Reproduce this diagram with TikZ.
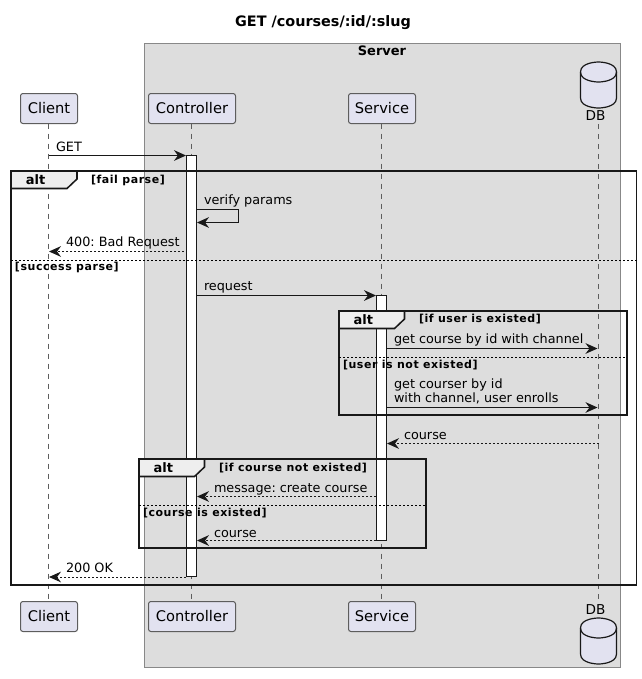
\documentclass[tikz,border=0pt]{standalone}
\usepackage{fontspec}
\setmainfont{DejaVu Sans}
\newfontfamily\guardfont[LetterSpace=5]{DejaVu Sans}
\frenchspacing
\usetikzlibrary{arrows.meta}
\definecolor{actor}{HTML}{E2E2F0}
\definecolor{boxgray}{HTML}{DDDDDD}
\definecolor{boxline}{HTML}{888888}
\definecolor{tabfill}{HTML}{EEEEEE}
\definecolor{ink}{HTML}{181818}
\tikzset{
  x=0.75pt,y=-0.75pt,
  every node/.style={inner sep=0pt,outer sep=0pt,text=black},
  part/.style={draw=ink!70,line width=0.75pt,fill=actor,rounded corners=1.8pt,minimum height=22.5pt,font=\fontsize{11pt}{12pt}\selectfont,anchor=center},
  dbtext/.style={font=\fontsize{10.2pt}{12pt}\selectfont,anchor=center},
  lifeline/.style={draw=ink!70,line width=0.6pt,dash pattern=on 3.75pt off 3.75pt},
  bar/.style={draw=ink,line width=0.75pt,fill=white},
  msg/.style={draw=ink,line width=0.75pt,-{Stealth[length=9pt,width=8pt,inset=3pt,fill=ink]}},
  reply/.style={msg,dash pattern=on 1.5pt off 1.5pt},
  msgtext/.style={anchor=base west,align=left,font=\fontsize{9.6pt}{11.2pt}\selectfont},
  frameline/.style={draw=ink,line width=1.15pt},
  tabshape/.style={draw=ink,line width=1.15pt,fill=tabfill},
  divider/.style={draw=black,line width=0.75pt,dash pattern=on 1.5pt off 1.5pt},
  alttext/.style={anchor=center,font=\fontsize{9.75pt}{12pt}\bfseries\selectfont},
  guard/.style={anchor=base west,font=\fontsize{8.25pt}{10pt}\guardfont\bfseries},
  cyl/.style={draw=ink,line width=0.9pt},
}
\newcommand{\altframe}[5]{% x1 y1 x2 y2 tabright
  \draw[frameline] (#1,#2) rectangle (#3,#4);
  \draw[tabshape] (#1,#2) -- (#5,#2) -- (#5,#2+8) -- (#5-10,#2+17.5) -- (#1,#2+17.5) -- cycle;
  \node[alttext] at ({(#1+#5)/2-8.5},#2+9) {alt};
}
\newcommand{\dbshape}[2]{%
  \begin{scope}[shift={(#1,#2)}]
  \draw[cyl,fill=actor] (-18,10) .. controls (-18,0) and (0,0) .. (0,0) .. controls (0,0) and (18,0) .. (18,10) -- (18,36) .. controls (18,46) and (0,46) .. (0,46) .. controls (0,46) and (-18,46) .. (-18,36) -- cycle;
  \draw[cyl] (-18,10) .. controls (-18,20) and (0,20) .. (0,20) .. controls (0,20) and (18,20) .. (18,10);
  \end{scope}}
\begin{document}
\begin{tikzpicture}
\useasboundingbox (0,0) rectangle (642,679);
\node[font=\fontsize{10.8pt}{12pt}\bfseries\selectfont,anchor=center] (title) at (323,23) {GET /courses/:id/:slug};
% server box
\node[draw=boxline,fill=boxgray,line width=0.75pt,minimum width=357pt,minimum height=468pt,anchor=north west] (server) at (144.5,43.5) {};
\node[font=\fontsize{9.75pt}{12pt}\bfseries\selectfont,anchor=center] (servert) at (382,51) {Server};
% lifeline ends
\coordinate (cT) at (48.5,123.5); \coordinate (cB) at (48.5,601.5);
\coordinate (kT) at (191.5,123.5); \coordinate (kB) at (191.5,601.5);
\coordinate (sT) at (381.5,123.5); \coordinate (sB) at (381.5,601.5);
\coordinate (dT) at (598.5,124); \coordinate (dB) at (598.5,602);
\foreach \a/\b in {cT/cB,kT/kB,sT/sB,dT/dB}{\draw[lifeline] (\a) -- (\b);}
% participants
\node[part,minimum width=42.75pt] (c1) at (49,108.5) {Client};
\node[part,minimum width=65.25pt] (k1) at (192,108.5) {Controller};
\node[part,minimum width=50.25pt] (s1) at (382,108.5) {Service};
\node[part,minimum width=42.75pt] (c2) at (49,616.5) {Client};
\node[part,minimum width=65.25pt] (k2) at (192,616.5) {Controller};
\node[part,minimum width=50.25pt] (s2) at (382,616.5) {Service};
\dbshape{598.5}{62}
\dbshape{598.5}{618}
\node[dbtext] (d1) at (595.5,116) {DB};
\node[dbtext] (d2) at (595.5,609.5) {DB};
% activation bars
\node[bar,minimum width=7.5pt,minimum height=316.1pt,anchor=north] (kbar) at (191.5,155.5) {};
\node[bar,minimum width=7.5pt,minimum height=183.75pt,anchor=north] (sbar) at (381.5,295.5) {};
% message ends
\coordinate (m1a) at (48.5,155.5); \coordinate (m1b) at (186,155.5);
\coordinate (m2a) at (196.5,209.5); \coordinate (m2c) at (238.5,209.5); \coordinate (m2d) at (238.5,222.5); \coordinate (m2b) at (197,222.5);
\coordinate (m3a) at (184,251.5); \coordinate (m3b) at (49,251.5);
\coordinate (m4a) at (196.5,295.5); \coordinate (m4b) at (376,295.5);
\coordinate (m5a) at (386.5,348.5); \coordinate (m5b) at (597.5,348.5);
\coordinate (m6a) at (386.5,407.5); \coordinate (m6b) at (597.5,407.5);
\coordinate (m7a) at (598.5,443.5); \coordinate (m7b) at (387,443.5);
\coordinate (m8a) at (376,496.5); \coordinate (m8b) at (197,496.5);
\coordinate (m9a) at (376,540.5); \coordinate (m9b) at (197,540.5);
\coordinate (m10a) at (186,577); \coordinate (m10b) at (49,577);
\draw[msg] (m1a) -- (m1b);
\draw[msg] (m2a) -- (m2c) -- (m2d) -- (m2b);
\draw[reply] (m3a) -- (m3b);
\draw[msg] (m4a) -- (m4b);
\draw[msg] (m5a) -- (m5b);
\draw[msg] (m6a) -- (m6b);
\draw[reply] (m7a) -- (m7b);
\draw[reply] (m8a) -- (m8b);
\draw[reply] (m9a) -- (m9b);
\draw[reply] (m10a) -- (m10b);
% frames
\altframe{11}{171}{636.5}{585}{77}
\draw[divider] (11,260.5) -- (636.5,260.5);
\altframe{339}{311}{627}{415}{404.5}
\draw[divider] (339,357.5) -- (627,357.5);
\altframe{139}{459}{426}{548}{204.5}
\draw[divider] (139,505) -- (426,505);
% labels
\node[msgtext] (l1) at (56,151) {GET};
\node[msgtext] (l2) at (204,204) {verify params};
\node[msgtext] (l3) at (66,246) {400: Bad Request};
\node[msgtext] (l4) at (204,290) {request};
\node[msgtext] (l5) at (394,343) {get course by id with channel};
\node[msgtext] (l6) at (394,388) {get courser by id};
\node[msgtext] (l6b) at (394,402.5) {with channel, user enrolls};
\node[msgtext] (l7) at (404,439) {course};
\node[msgtext] (l8) at (214,492) {message: create course};
\node[msgtext] (l9) at (214,537) {course};
\node[msgtext] (l10) at (66,572) {200 OK};
\node[guard] (g1) at (91,183) {[fail parse]};
\node[guard] (g2) at (15,270) {[success parse]};
\node[guard] (g3) at (419,322) {[if user is existed]};
\node[guard] (g4) at (343,368) {[user is not existed]};
\node[guard] (g5) at (219,471) {[if course not existed]};
\node[guard] (g6) at (143,516) {[course is existed]};
\end{tikzpicture}
\end{document}
